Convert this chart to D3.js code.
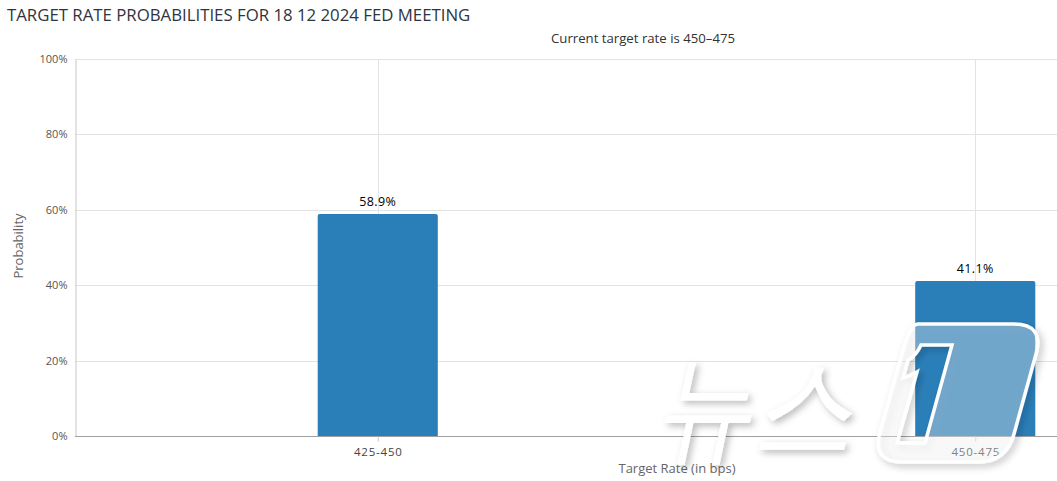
<!DOCTYPE html>
<html><head><meta charset="utf-8">
<script src="https://cdn.jsdelivr.net/npm/d3@7"></script>
<style>
html,body{margin:0;padding:0;background:#fff;overflow:hidden}
text{font-family:"Open Sans","Noto Sans",sans-serif}
</style></head>
<body><svg id="c" width="1057" height="481"></svg>
<script>
const categories = ["425-450", "450-475"];
const probabilities = [58.9, 41.1];
const yTicks = [0, 20, 40, 60, 80, 100];
const titleText = "TARGET RATE PROBABILITIES FOR 18 12 2024 FED MEETING";
const subtitleText = "Current target rate is 450–475";
const xTitle = "Target Rate (in bps)";
const yTitle = "Probability";

const svg = d3.select("#c");
const plotLeft = 75, plotTop = 59, plotBottom = 436;
const x = d3.scalePoint().domain(categories).range([79, 1274]).padding(0.5);
const y = d3.scaleLinear().domain([0, 100]).range([plotBottom, plotTop]);
const step = x.step();
const barW = step * 0.201;

// horizontal grid
svg.append("g").selectAll("line").data(yTicks.filter(d => d > 0)).join("line")
  .attr("x1", plotLeft).attr("x2", 1057).attr("y1", d => Math.round(y(d)) + 0.5).attr("y2", d => Math.round(y(d)) + 0.5)
  .attr("stroke", "#e3e3e3");
// vertical grid at categories
svg.append("g").selectAll("line").data(categories).join("line")
  .attr("x1", d => Math.round(x(d)) + 0.5).attr("x2", d => Math.round(x(d)) + 0.5)
  .attr("y1", plotTop).attr("y2", plotBottom).attr("stroke", "#e3e3e3");

// y axis
const yAxis = d3.axisLeft(y).tickValues(yTicks).tickFormat(d => d + "%").tickSize(0).tickPadding(8);
const gy = svg.append("g").attr("transform", `translate(${plotLeft + 0.5},0)`).call(yAxis);
gy.select(".domain").attr("stroke", "#c8c8c8");
gy.selectAll("text").attr("fill", "#555").attr("font-size", 11).attr("font-family", '"Open Sans",sans-serif');

// bars
const bar = d => {
  const x0 = x(d.c) - barW / 2, x1 = x(d.c) + barW / 2, y0 = y(d.v), y1 = y(0), r = 2;
  return `M${x0},${y1}V${y0 + r}Q${x0},${y0} ${x0 + r},${y0}H${x1 - r}Q${x1},${y0} ${x1},${y0 + r}V${y1}Z`;
};
const data = categories.map((c, i) => ({c, v: probabilities[i]}));
svg.append("g").selectAll("path").data(data).join("path")
  .attr("d", bar).attr("fill", "#2b7fb9");

// data labels
svg.append("g").selectAll("text").data(data).join("text")
  .attr("x", d => x(d.c)).attr("y", d => y(d.v) - 8).attr("text-anchor", "middle")
  .attr("font-size", 12.5).attr("letter-spacing", 0.4).attr("fill", "#000").text(d => d.v.toFixed(1) + "%");

// x axis
const xAxis = d3.axisBottom(x).tickSize(5).tickPadding(6);
const gx = svg.append("g").attr("transform", `translate(0,${plotBottom + 0.5})`).call(xAxis);
gx.select(".domain").attr("d", `M${plotLeft},0H1300`).attr("stroke", "#a0a0a0");
gx.selectAll(".tick line").attr("stroke", "#ccc");
gx.selectAll("text").attr("fill", "#444").attr("font-size", 11.5).attr("letter-spacing", 0.8).attr("font-family", '"Open Sans",sans-serif');

// titles
svg.append("text").attr("x", 7).attr("y", 21).attr("font-size", 16.8).attr("fill", "#2e3441").text(titleText);
svg.append("text").attr("x", 643).attr("y", 43).attr("text-anchor", "middle").attr("font-size", 13.2).attr("fill", "#333").text(subtitleText);
svg.append("text").attr("x", 677).attr("y", 473).attr("text-anchor", "middle").attr("font-size", 13).attr("fill", "#666").text(xTitle);
svg.append("text").attr("transform", "translate(23,246) rotate(-90)").attr("text-anchor", "middle").attr("font-size", 13).attr("fill", "#666").text(yTitle);

// watermark
const defs = svg.append("defs");
const f = defs.append("filter").attr("id", "sh").attr("x", "-20%").attr("y", "-20%").attr("width", "140%").attr("height", "140%");
f.append("feDropShadow").attr("dx", 3).attr("dy", 3).attr("stdDeviation", 3.5).attr("flood-color", "#000").attr("flood-opacity", 0.28);
const wm = svg.append("g").attr("filter", "url(#sh)");
wm.append("text").attr("x", 652).attr("y", 448).attr("font-size", 118).attr("font-weight", 500)
  .attr("font-style", "italic").attr("textLength", 200).attr("lengthAdjust", "spacingAndGlyphs")
  .attr("font-family", '"Noto Sans CJK KR",sans-serif').attr("fill", "#fff").text("뉴스");
wm.append("path")
  .attr("fill-rule", "evenodd")
  .attr("d", "M918,324 H1014 Q1044,324 1036,354 L1014,434 Q1006,462 978,462 H902 Q872,462 880,432 L902,354 Q910,324 918,324 Z " +
             "M921,345 L952,345 L925,443 L897,443 L917,372 Q910,376 903,378 L908,360 Q916,356 921,345 Z")
  .attr("fill", "rgba(255,255,255,0.3)").attr("stroke", "#fff").attr("stroke-width", 3.5);
</script></body></html>
